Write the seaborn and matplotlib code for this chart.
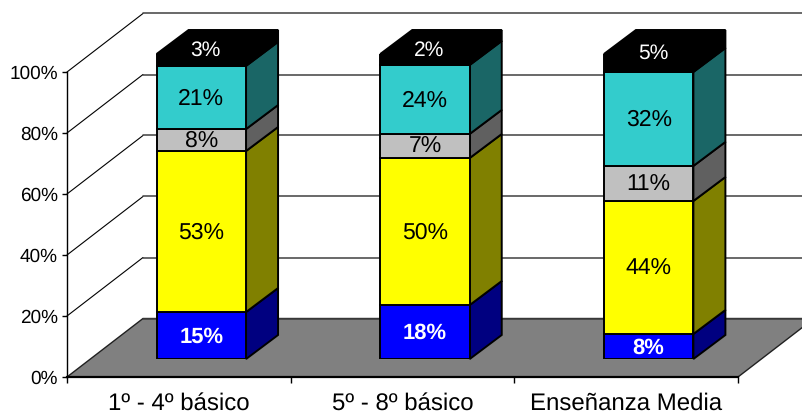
import numpy as np
import pandas as pd
import seaborn as sns
import matplotlib.pyplot as plt
from matplotlib.patches import Polygon

categories = ["1º - 4º básico", "5º - 8º básico", "Enseñanza Media"]
y_ticks = [0, 20, 40, 60, 80, 100]

# bar heights, bottom to top
blue_values = [15.4, 17.7, 8.2]
yellow_values = [52.8, 48.2, 43.6]
grey_values = [7.2, 7.9, 11.5]
cyan_values = [20.7, 22.6, 30.8]
black_values = [3.9, 3.6, 5.9]

# the labels printed on the bars
blue_labels = ["15%", "18%", "8%"]
yellow_labels = ["53%", "50%", "44%"]
grey_labels = ["8%", "7%", "11%"]
cyan_labels = ["21%", "24%", "32%"]
black_labels = ["3%", "2%", "5%"]

series = [
    (blue_values, blue_labels, "#0000ff", "#000080", "white", "bold", 16),
    (yellow_values, yellow_labels, "#ffff00", "#808000", "black", "normal", 16.5),
    (grey_values, grey_labels, "#c0c0c0", "#606060", "black", "normal", 16.5),
    (cyan_values, cyan_labels, "#33cccc", "#1a6666", "black", "normal", 16.5),
    (black_values, black_labels, "#000000", "#000000", "white", "normal", 15),
]

W, H = 803, 412
sns.set_style("white")
plt.rcParams["font.family"] = ["Liberation Sans", "DejaVu Sans"]
plt.rcParams["font.size"] = 14
plt.rcParams["text.hinting"] = "no_hinting"
plt.rcParams["text.hinting_factor"] = 1


def px_axes(fig, left, right, bottom_y, top_y):
    return fig.add_axes([left / W, 1 - bottom_y / H, (right - left) / W, (bottom_y - top_y) / H])


fig = plt.figure(figsize=(W / 100, H / 100), dpi=100)

# main axes carries the ticks, walls and floor
ax = px_axes(fig, 67, 738, 377, 72)
ax.set_xlim(-0.5, 2.5)
ax.set_ylim(0, 100)
ax.patch.set_visible(False)
px_x = 671 / 3
px_y = 305 / 100
wall_dx = 76 / px_x
wall_dy = 58.5 / px_y

floor = Polygon(
    [(-0.5, 0), (-0.5 + wall_dx, wall_dy), (2.5 + wall_dx, wall_dy), (2.5, 0)],
    closed=True, facecolor="#808080", edgecolor="#202020", linewidth=1.0, clip_on=False, zorder=1,
)
ax.add_patch(floor)
for t in y_ticks:
    if t > 0:
        ax.plot([-0.5, -0.5 + wall_dx], [t, t + wall_dy], color="black", lw=0.8, clip_on=False, zorder=2)
    ax.plot([-0.5 + wall_dx, 2.5 + wall_dx], [t + wall_dy, t + wall_dy], color="#404040", lw=1.1,
            clip_on=False, zorder=2)

ax.set_xticks([-0.5, 0.5, 1.5, 2.5])
ax.set_xticklabels([])
ax.set_xticks(range(3), labels=categories, minor=True)
ax.set_yticks(y_ticks, labels=[f"{t}%" for t in y_ticks])
ax.tick_params(axis="x", which="major", bottom=True, length=4, width=1.0, color="black")
ax.tick_params(axis="x", which="minor", bottom=False, pad=9, labelsize=17, labelcolor="black")
ax.tick_params(axis="y", left=True, length=3.6, width=1.0, color="black", pad=3, labelsize=14, labelcolor="black")
for name in ["top", "right"]:
    ax.spines[name].set_visible(False)
ax.spines["left"].set_linewidth(1.0)
ax.spines["bottom"].set_linewidth(1.6)
for name in ["left", "bottom"]:
    ax.spines[name].set_color("black")
    ax.spines[name].set_zorder(3)

# bars live on a second axes, pushed forward into the floor
front = px_axes(fig, 89.5, 760.5, 359, 54)
front.patch.set_visible(False)
bottoms = np.zeros(3)
bar_dx = 32 / px_x
bar_dy = 24 / px_y
edge = 1.4

for i, (values, labels, colour, side, text_colour, weight, size) in enumerate(series):
    df = pd.DataFrame({"group": categories, "value": values})
    n_before = len(front.patches)
    sns.barplot(df, x="group", y="value", bottom=bottoms, color=colour, saturation=1, width=0.4,
                errorbar=None, edgecolor="black", linewidth=edge, ax=front, zorder=2)
    for bar, label in zip(front.patches[n_before:], labels):
        x0, y0, w, h = bar.get_x(), bar.get_y(), bar.get_width(), bar.get_height()
        x1 = x0 + w
        front.add_patch(Polygon(
            [(x1, y0), (x1 + bar_dx, y0 + bar_dy), (x1 + bar_dx, y0 + h + bar_dy), (x1, y0 + h)],
            closed=True, facecolor=side, edgecolor="black", linewidth=edge, clip_on=False, zorder=1,
        ))
        cx, cy = x0 + w / 2, y0 + h / 2 - 0.4
        if i == len(series) - 1:
            # top face, and its label sits up on it
            front.add_patch(Polygon(
                [(x0, y0 + h), (x0 + bar_dx, y0 + h + bar_dy), (x1 + bar_dx, y0 + h + bar_dy), (x1, y0 + h)],
                closed=True, facecolor=colour, edgecolor="black", linewidth=edge, clip_on=False, zorder=1,
            ))
            cx += 0.02
            cy += 3.4
        front.text(cx, cy, label, ha="center", va="center", color=text_colour, fontweight=weight,
                   fontsize=size, zorder=4, clip_on=False)
    bottoms = bottoms + np.array(values)

front.set_xlim(-0.5, 2.5)
front.set_ylim(0, 100)
front.axis("off")

fig.savefig("out.png", dpi=100)
